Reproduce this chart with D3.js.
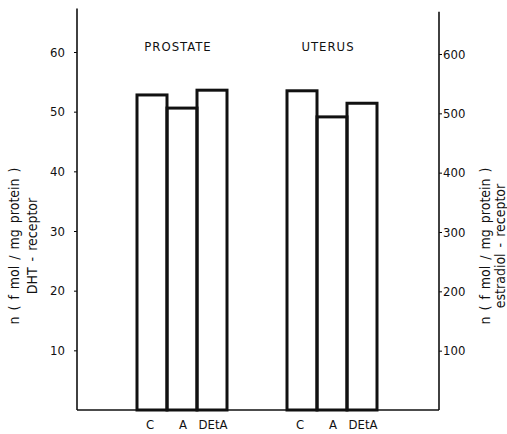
<!DOCTYPE html>
<html>
<head>
<meta charset="utf-8">
<script src="https://cdn.jsdelivr.net/npm/d3@7"></script>
<style>
  body { margin: 0; background: #fff; }
  text { font-family: "DejaVu Sans Condensed", "DejaVu Sans", sans-serif; fill: #111; }
</style>
</head>
<body>
<div id="chart"></div>
<script>
// groups and treatments
var groups = ["PROSTATE", "UTERUS"];
var treatments = ["C", "A", "DEtA"];
// prostate read against left axis (DHT receptor), uterus against right axis (estradiol receptor)
var prostateValues = [52.8, 50.6, 53.6];
var uterusValues = [538, 494, 517];
var leftTicks = [10, 20, 30, 40, 50, 60];
var rightTicks = [100, 200, 300, 400, 500, 600];

var width = 507;
var height = 434;

var svg = d3.select('#chart')
        .append('svg')
        .attr('width', width)
        .attr('height', height);

var left = 77, right = 439, base = 410;

var yLeft = d3.scaleLinear()
    .domain([0, 60])
    .range([base, 52]);

var yRight = d3.scaleLinear()
    .domain([0, 600])
    .range([base, 54]);

// group position, then bars inside each group
var xGroup = d3.scaleBand()
    .domain(groups)
    .range([107, 407])
    .paddingInner(0.4)
    .paddingOuter(0.2);

var xBar = d3.scaleBand()
    .domain(treatments)
    .range([0, xGroup.bandwidth()]);

var data = [];
treatments.forEach(function(t, i) {
    data.push({ group: "PROSTATE", t: t, value: prostateValues[i], y: yLeft });
    data.push({ group: "UTERUS", t: t, value: uterusValues[i], y: yRight });
});

// bars
svg.selectAll(".bar")
    .data(data)
    .enter()
        .append("rect")
        .attr("class", "bar")
        .attr("x", function(d) { return xGroup(d.group) + xBar(d.t); })
        .attr("y", function(d) { return d.y(d.value); })
        .attr("width", xBar.bandwidth())
        .attr("height", function(d) { return base - d.y(d.value); })
        .attr("fill", "none")
        .attr("stroke", "#111")
        .attr("stroke-width", 3);

// left axis
var gl = svg.append("g")
    .attr("transform", "translate(" + left + ",0)")
    .call(d3.axisLeft(yLeft).tickValues(leftTicks).tickSize(3).tickSizeOuter(0).tickPadding(9));
gl.select(".domain").remove();
gl.selectAll("text").style("font-size", "13px");
svg.append("line")
    .attr("x1", left).attr("x2", left)
    .attr("y1", yLeft(0)).attr("y2", yLeft(67.3))
    .attr("stroke", "#111").attr("stroke-width", 1.6);

// right axis
var gr = svg.append("g")
    .attr("transform", "translate(" + right + ",0)")
    .call(d3.axisRight(yRight).tickValues(rightTicks).tickSize(3).tickSizeOuter(0).tickPadding(1));
gr.select(".domain").remove();
gr.selectAll("text").style("font-size", "13px");
svg.append("line")
    .attr("x1", right).attr("x2", right)
    .attr("y1", yRight(0)).attr("y2", yRight(671))
    .attr("stroke", "#111").attr("stroke-width", 1.6);

// baseline
svg.append("line")
    .attr("x1", left).attr("x2", right)
    .attr("y1", base).attr("y2", base)
    .attr("stroke", "#111").attr("stroke-width", 1.4);

// bar labels under the baseline
svg.selectAll(".blabel")
    .data(data)
    .enter().append("text")
    .attr("x", function(d) { return xGroup(d.group) + xBar(d.t) + xBar.bandwidth() / 2 + (d.t == "C" ? -2 : 1); })
    .attr("y", 429)
    .attr("text-anchor", "middle")
    .style("font-size", "13px")
    .text(function(d) { return d.t; });

// group titles
svg.selectAll(".gtitle")
    .data(groups)
    .enter().append("text")
    .attr("x", function(d) { return xGroup(d) + xGroup.bandwidth() / 2 - 4; })
    .attr("y", 51)
    .attr("text-anchor", "middle")
    .style("font-size", "13px")
    .style("letter-spacing", "1px")
    .text(function(d) { return d; });

// axis titles
var midY = 246;
var titles = [
    { x: 19, text: "n ( f mol / mg protein )" },
    { x: 37, text: "DHT - receptor" },
    { x: 490, text: "n ( f mol / mg protein )" },
    { x: 505, text: "estradiol - receptor" }
];
svg.selectAll(".ytitle")
    .data(titles)
    .enter().append("text")
    .attr("transform", function(d) { return "translate(" + d.x + "," + midY + ") rotate(-90)"; })
    .attr("text-anchor", "middle")
    .style("font-size", "14px")
    .style("word-spacing", "2px")
    .text(function(d) { return d.text; });
</script>
</body>
</html>
